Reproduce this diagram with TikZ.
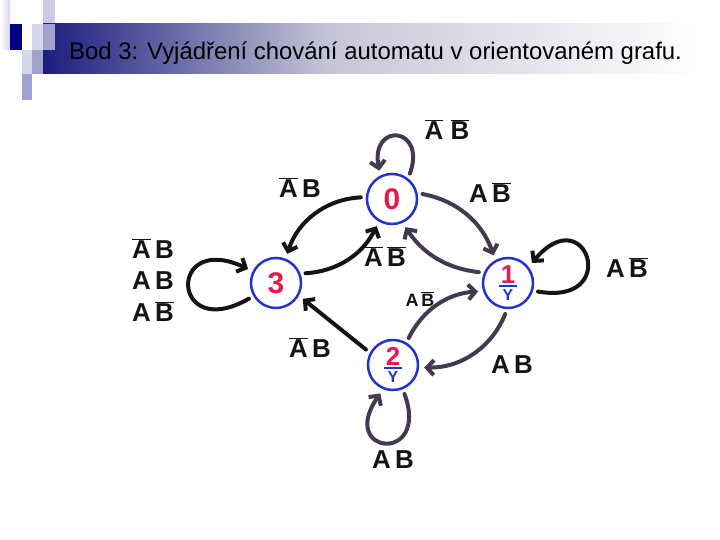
\documentclass[tikz,border=0pt]{standalone}
\usepackage{fontspec}
\setmainfont{Liberation Sans}
\usepackage{xcolor}
\usepackage{tikz}
\usetikzlibrary{arrows.meta,positioning}
\definecolor{barnavy}{HTML}{1C1C7E}
\definecolor{deepnavy}{HTML}{000080}
\definecolor{paleviolet}{HTML}{D6D6EC}
\definecolor{midviolet}{HTML}{A2A2D0}
\definecolor{fadegray}{HTML}{C6C6D8}
\definecolor{ringblue}{HTML}{2234C8}
\definecolor{digitred}{HTML}{E8184C}
\definecolor{inkblack}{HTML}{141414}
\definecolor{inkviolet}{HTML}{45394F}
\newcommand{\nb}[1]{$\overline{\mbox{#1}}$}
\tikzset{
  stnode/.style={circle,draw=ringblue,line width=2.5bp,minimum size=50bp,inner sep=0pt,align=center,font=\bfseries\fontsize{26}{26}\selectfont},
  ar/.style={-{Straight Barb[length=7bp,width=15bp]},line width=4bp,inkblack,line cap=round,shorten <=5bp,shorten >=5bp},
  arv/.style={ar,inkviolet},
  lab/.style={font=\bfseries\fontsize{26}{32}\selectfont,inkblack,align=center,inner sep=0pt}
}
\begin{document}
\begin{tikzpicture}[x=1bp,y=1bp]
\useasboundingbox (0,0) rectangle (720,540);
\shade[left color=white,right color=paleviolet] (0,490) rectangle (10,540);
\fill[paleviolet!80!midviolet] (43,516) rectangle (55,540);
\shade[left color=barnavy,right color=fadegray] (43,466) rectangle (330,516);
\shade[left color=fadegray,right color=white] (330,466) rectangle (700,516);
\fill[deepnavy] (10,490) rectangle (22,516);
\fill[paleviolet] (32,490) rectangle (43,516);
\fill[midviolet] (43,490) rectangle (55,516);
\fill[paleviolet] (22,466) rectangle (32,490);
\fill[midviolet] (32,466) rectangle (43,490);
\fill[midviolet] (22,440) rectangle (32,466);
\node[anchor=base west,font=\fontsize{24}{28}\selectfont,inner sep=0pt] (title) at (69,480) {Bod 3: Vyjádření chování automatu v orientovaném grafu.};

\node[stnode,font=\bfseries\fontsize{30}{30}\selectfont] (n0) at (392,341) {\textcolor{digitred}{0}};
\node[stnode,font=\bfseries\fontsize{30}{30}\selectfont] (n3) at (276,257) {\textcolor{digitred}{3}};
\node[stnode] (n1) at (508,257) {\textcolor{digitred}{1}\\[-22bp]\textcolor{ringblue}{\rule{18bp}{2bp}}\\[-12bp]\textcolor{ringblue}{\fontsize{16}{16}\selectfont Y}};
\node[stnode] (n2) at (393,175) {\textcolor{digitred}{2}\\[-22bp]\textcolor{ringblue}{\rule{18bp}{2bp}}\\[-12bp]\textcolor{ringblue}{\fontsize{16}{16}\selectfont Y}};

\draw[arv] (n0.52) .. controls +(70:55) and +(100:55) .. (n0.117);
\draw[ar] (n0.176) to[bend right=35] (n3.68);
\draw[ar] (n3.21) to[bend right=30] (n0.240);
\draw[arv] (n0.13) to[bend left=30] (n1.119);
\draw[arv] (n1.157) to[bend left=25] (n0.294);
\draw[arv] (n2.59) to[bend left=30] (n1.198);
\draw[arv] (n1.268) to[bend left=35] (n2.355);
\draw[ar] (n2.152) -- (n3.331);
\draw[ar] (n1.343) .. controls +(-10:90) and +(50:90) .. (n1.38);
\draw[arv] (n2.292) .. controls +(-70:80) and +(-125:80) .. (n2.248);
\draw[ar] (n3.210) .. controls +(210:95) and +(155:95) .. (n3.153);

\node[lab] (l00) at (447,410) {\nb{A}\ \nb{B}};
\node[lab] (l03) at (300,352) {\nb{A}\,B};
\node[lab] (l30) at (385,283) {\nb{A}\,\nb{B}};
\node[lab] (l01) at (490,347) {A\,\nb{B}};
\node[lab] (l11) at (627,272) {A\,\nb{B}};
\node[lab,font=\bfseries\fontsize{18}{20}\selectfont] (l21) at (420,241) {A\,\nb{B}};
\node[lab] (l12) at (512,175) {A\,B};
\node[lab] (l22) at (393,80) {A\,B};
\node[lab] (l23) at (310,192) {\nb{A}\,B};
\node[lab] (l33) at (153,260) {\nb{A}\,B\\A\,B\\A\,\nb{B}};
\end{tikzpicture}
\end{document}
